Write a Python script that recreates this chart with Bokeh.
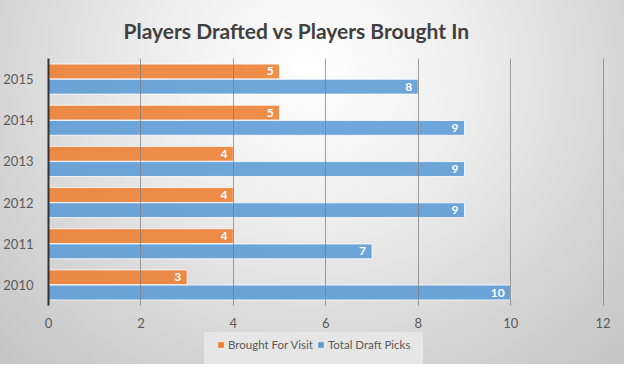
from bokeh.plotting import figure
from bokeh.layouts import column
from bokeh.models import ColumnDataSource, FactorRange, Range1d, FixedTicker, Legend, LegendItem
from bokeh.transform import dodge
from bokeh.core.properties import value
from bokeh.embed import file_html
from bokeh.resources import INLINE

years = ["2010", "2011", "2012", "2013", "2014", "2015"]
brought_for_visit = [3, 4, 4, 4, 5, 5]
total_draft_picks = [10, 7, 9, 9, 9, 8]
x_ticks = [0, 2, 4, 6, 8, 10, 12]
series_names = ["Brought For Visit", "Total Draft Picks"]

src = ColumnDataSource(dict(
    year=years,
    visit=brought_for_visit,
    picks=total_draft_picks,
    visit_lbl=[str(v) for v in brought_for_visit],
    picks_lbl=[str(v) for v in total_draft_picks],
))

FONT = "Lato"
ORANGE = "#ED7D31"
BLUE = "#5B9BD5"
H = 0.36

p = figure(width=624, height=332, y_range=FactorRange(*years), x_range=Range1d(0, 12.03),
           output_backend="svg", toolbar_location=None,
           title="Players Drafted vs Players Brought In",
           min_border_left=42, min_border_right=20, min_border_top=53, min_border_bottom=27)

p.background_fill_alpha = 0
p.border_fill_alpha = 0
p.outline_line_color = None

p.title.text_font = FONT
p.title.text_font_size = "21px"
p.title.text_font_style = "bold"
p.title.text_color = "#404040"
p.title.align = "left"
p.title.offset = 75
p.title.standoff = 31

r1 = p.hbar(y=dodge("year", 0.185, range=p.y_range), right="visit", height=H, left=0, source=src,
            fill_color=ORANGE, fill_alpha=0.88, line_color="white", line_alpha=0.8, line_width=1)
r2 = p.hbar(y=dodge("year", -0.185, range=p.y_range), right="picks", height=H, left=0, source=src,
            fill_color=BLUE, fill_alpha=0.88, line_color="white", line_alpha=0.8, line_width=1)

p.text(x="visit", y=dodge("year", 0.185, range=p.y_range), text="visit_lbl", source=src,
       x_offset=-6, text_align="right", text_baseline="middle", text_color="white",
       text_font=value(FONT), text_font_style="bold", text_font_size="12px")
p.text(x="picks", y=dodge("year", -0.185, range=p.y_range), text="picks_lbl", source=src,
       x_offset=-6, text_align="right", text_baseline="middle", text_color="white",
       text_font=value(FONT), text_font_style="bold", text_font_size="12px")

p.xaxis.ticker = FixedTicker(ticks=x_ticks)
p.xaxis.axis_line_color = None
p.xaxis.major_tick_line_color = None
p.xaxis.minor_tick_line_color = None
p.xaxis.major_label_text_font = FONT
p.xaxis.major_label_text_font_size = "13px"
p.xaxis.major_label_text_color = "#595959"
p.xaxis.major_label_standoff = 6

p.yaxis.axis_line_color = "#333333"
p.yaxis.axis_line_width = 2
p.yaxis.major_tick_line_color = None
p.yaxis.minor_tick_line_color = None
p.yaxis.major_label_text_font = FONT
p.yaxis.major_label_text_font_size = "13px"
p.yaxis.major_label_text_color = "#595959"
p.yaxis.major_label_standoff = 9

p.xgrid.grid_line_color = "#7a7a7a"
p.xgrid.grid_line_alpha = 0.7
p.xgrid.level = "annotation"
p.ygrid.grid_line_color = None

# legend strip below the chart
lg = figure(width=624, height=32, y_range=FactorRange(*years), x_range=Range1d(0, 12),
            output_backend="svg", toolbar_location=None, x_axis_type=None, y_axis_type=None,
            min_border_left=0, min_border_right=0, min_border_top=0, min_border_bottom=0)
lg.background_fill_alpha = 0
lg.border_fill_alpha = 0
lg.outline_line_color = None
lg.grid.grid_line_color = None
l1 = lg.hbar(y="year", right="visit", height=H, left=0, source=src, fill_color=ORANGE, line_color=None, visible=False)
l2 = lg.hbar(y="year", right="picks", height=H, left=0, source=src, fill_color=BLUE, line_color=None, visible=False)

legend = Legend(items=[LegendItem(label=series_names[0], renderers=[l1]),
                       LegendItem(label=series_names[1], renderers=[l2])],
                orientation="horizontal", location=(156, 0))
legend.label_text_font = FONT
legend.label_text_font_size = "11.5px"
legend.label_text_color = "#595959"
legend.background_fill_color = "#e6e6e6"
legend.background_fill_alpha = 1
legend.border_line_color = "#e6e6e6"
legend.border_line_width = 10
legend.inactive_fill_alpha = 0
legend.glyph_width = 7
legend.glyph_height = 7
legend.label_standoff = 4
legend.spacing = 4
legend.padding = 3
legend.margin = 0
lg.add_layout(legend, "center")

layout = column(p, lg, spacing=0)
layout.styles = {"background-image": "radial-gradient(ellipse farthest-corner at 50% 20%, #ffffff 0%, #eeeeee 35%, #d6d6d6 70%, #c4c4c4 100%)"}

open("out.html", "w").write(file_html(layout, INLINE))
